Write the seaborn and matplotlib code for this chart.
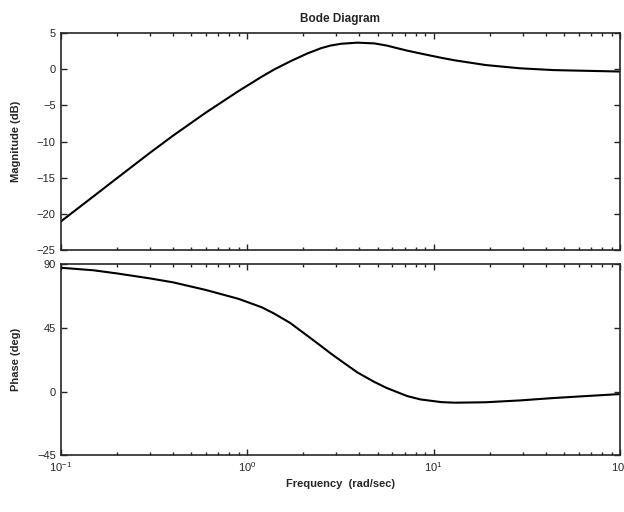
import numpy as np
import pandas as pd
import matplotlib
matplotlib.use('Agg')
import matplotlib.pyplot as plt
import seaborn as sns
from matplotlib.ticker import LogLocator, NullFormatter

# Values
freq = [0.1, 0.15, 0.2, 0.3, 0.4, 0.6, 0.9, 1.2, 1.4, 1.7, 2.1, 2.5, 2.8,
        3.2, 3.9, 4.8, 5.6, 7.2, 8.5, 11, 13, 19, 29, 44, 66, 100]
magnitude_db = [-21.1, -17.6, -15.1, -11.6, -9.2, -6.0, -3.0, -1.0, 0.0, 1.1,
                2.2, 2.95, 3.3, 3.55, 3.7, 3.6, 3.3, 2.6, 2.2, 1.6, 1.25, 0.6,
                0.15, -0.1, -0.2, -0.3]
phase_deg = [87.5, 85.7, 83.5, 80, 77.2, 71.8, 65.5, 59.5, 55, 48.5, 39.5, 32,
             27, 21.5, 13.5, 6.8, 2.5, -3.2, -5.6, -7.5, -7.9, -7.6, -6.3,
             -4.6, -3.2, -1.8]

mag_ticks = [-25, -20, -15, -10, -5, 0, 5]
phase_ticks = [-45, 0, 45, 90]

df = pd.DataFrame({'freq': freq, 'mag': magnitude_db, 'phase': phase_deg})

sns.set_style('ticks')
plt.rcParams['font.family'] = ['Liberation Sans Narrow', 'Liberation Sans', 'DejaVu Sans']
plt.rcParams['xtick.direction'] = 'in'
plt.rcParams['ytick.direction'] = 'in'

fig = plt.figure(figsize=(6.24, 5.12), dpi=100)
ax1 = fig.add_axes([0.097, 0.512, 0.897, 0.423])
ax2 = fig.add_axes([0.097, 0.111, 0.897, 0.373])

sns.lineplot(data=df, x='freq', y='mag', ax=ax1, color='black', linewidth=1.5)
sns.lineplot(data=df, x='freq', y='phase', ax=ax2, color='black', linewidth=1.5)

for ax in (ax1, ax2):
    ax.set_xscale('log')
    ax.set_xlim(0.1, 100)
    ax.xaxis.set_major_locator(LogLocator(base=10))
    ax.xaxis.set_minor_locator(LogLocator(base=10, subs=np.arange(2, 10)))
    ax.xaxis.set_minor_formatter(NullFormatter())
    ax.tick_params(which='both', top=True, right=True, labelsize=8, width=1)
    ax.tick_params(which='major', length=4)
    ax.tick_params(which='minor', length=2)
    for s in ax.spines.values():
        s.set_linewidth(1.2)

ax1.set_ylim(-25, 5)
ax1.set_yticks(mag_ticks)
ax1.set_xticklabels([])
ax1.set_xlabel('')
ax1.set_ylabel('Magnitude (dB)', fontsize=8, fontweight='bold')
ax1.set_title('Bode Diagram', fontsize=8.5, fontweight='bold', pad=8)

ax2.set_ylim(-45, 90)
ax2.set_yticks(phase_ticks)
ax2.set_ylabel('Phase (deg)', fontsize=8, fontweight='bold')
ax2.set_xlabel('Frequency  (rad/sec)', fontsize=8, fontweight='bold')

ax1.yaxis.set_label_coords(-0.07, 0.5)
ax2.yaxis.set_label_coords(-0.07, 0.5)

fig.savefig('out.png', dpi=100)
